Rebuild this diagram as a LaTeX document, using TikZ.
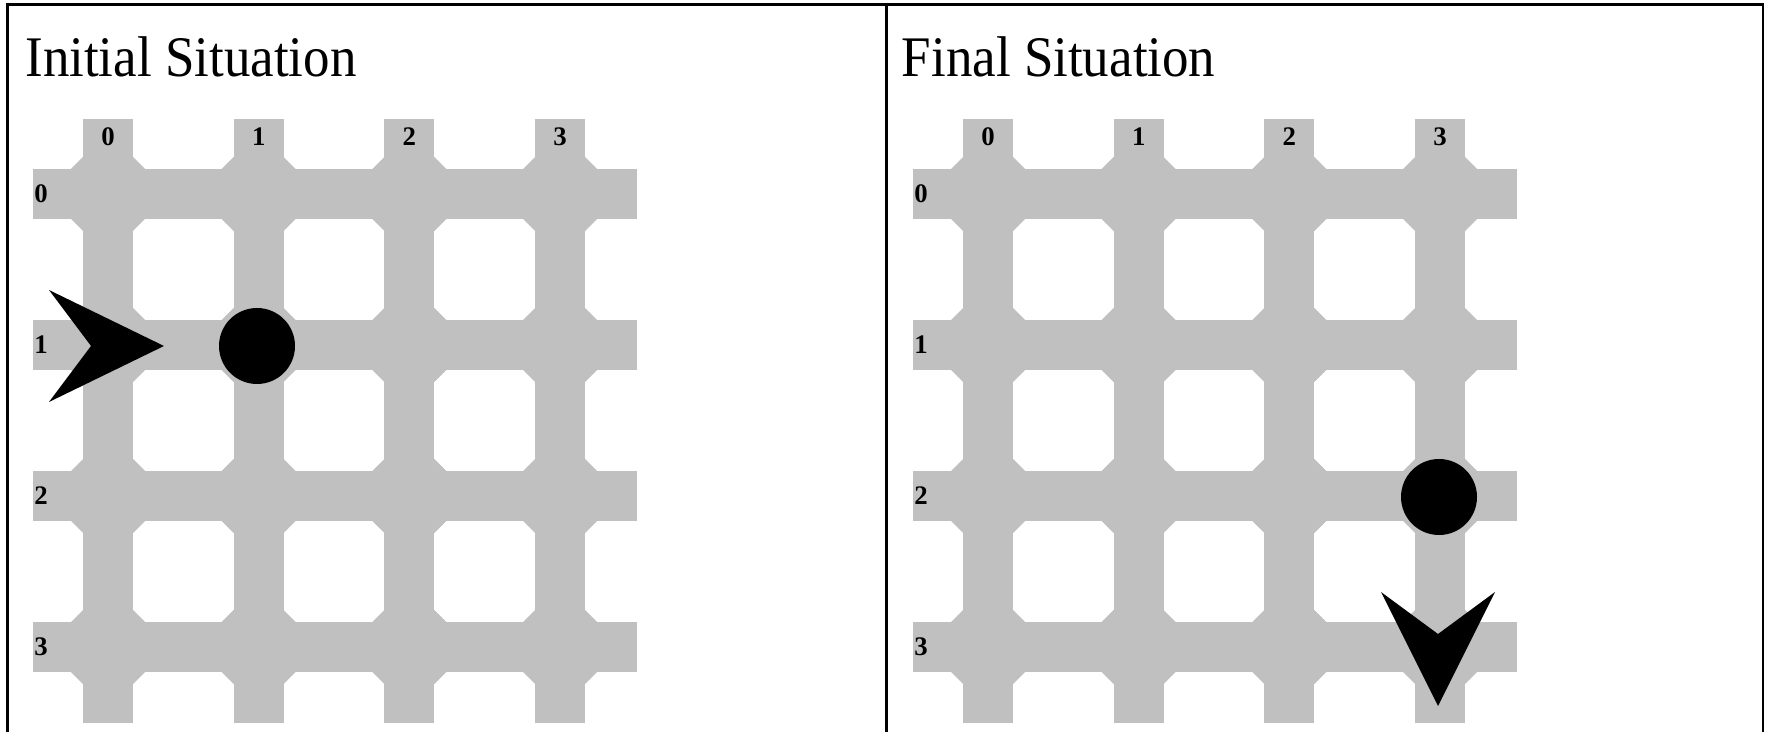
\documentclass[tikz,border=0pt]{standalone}
\usepackage{fontspec}
\setmainfont{Liberation Serif}

\definecolor{streetgray}{RGB}{192,192,192}

\tikzset{
  street/.style={fill=streetgray},
  gridlabel/.style={font=\fontsize{13.4pt}{15pt}\selectfont\bfseries, inner sep=0pt},
  paneltitle/.style={font=\fontsize{28.7pt}{32pt}\selectfont, inner sep=0pt, anchor=base west},
  robot/.style={fill=black},
  ball/.style={circle, fill=black, inner sep=0pt, minimum size=38pt},
  frame/.style={line width=1.2pt}
}

\begin{document}
\begin{tikzpicture}[x=0.5pt,y=-0.5pt]
  \useasboundingbox (0,0) rectangle (1767,732);

  % frame and divider
  \draw[frame] (7.5,732) -- (7.5,4.6) -- (1763,4.6) -- (1763,732);
  \draw[frame] (886.5,4.6) -- (886.5,732);

  \node[paneltitle] (inittitle) at (25,77) {\scalebox{0.923}[1]{Initial Situation}};
  \node[paneltitle] (finaltitle) at (901.5,77) {\scalebox{0.923}[1]{Final Situation}};

  % the street grid of each panel
  \foreach \ox/\p in {0/init, 880/final} {
    \foreach \k in {0,...,3} {
      \fill[street] ({\ox+33},{194+151*\k-25}) rectangle ({\ox+637},{194+151*\k+25});
      \fill[street] ({\ox+108+150.7*\k-25},119) rectangle ({\ox+108+150.7*\k+25},723);
    }
    \foreach \i in {0,...,3}
      \foreach \j in {0,...,3}
        \fill[street, shift={({\ox+108+150.7*\i},{194+151*\j})}]
          (-25,-37) -- (25,-37) -- (37,-25) -- (37,25) -- (25,37)
          -- (-25,37) -- (-37,25) -- (-37,-25) -- cycle;
    \foreach \k in {0,...,3} {
      \node[gridlabel] (\p col\k) at ({\ox+108+150.7*\k},137) {\k};
      \node[gridlabel, anchor=west] (\p row\k) at ({\ox+34},{194+151*\k}) {\k};
    }
  }

  % robot and ball, before
  \fill[robot, shift={(108,346)}] (56,0) -- (-59,-56) -- (-17,0) -- (-59,56) -- cycle;
  \node[ball] (initball) at (257,346) {};

  % robot and ball, after
  \fill[robot, shift={(1438,647)}] (0,59) -- (-57,-55) -- (0,-13) -- (57,-55) -- cycle;
  \node[ball] (finalball) at (1439,497) {};
\end{tikzpicture}
\end{document}
